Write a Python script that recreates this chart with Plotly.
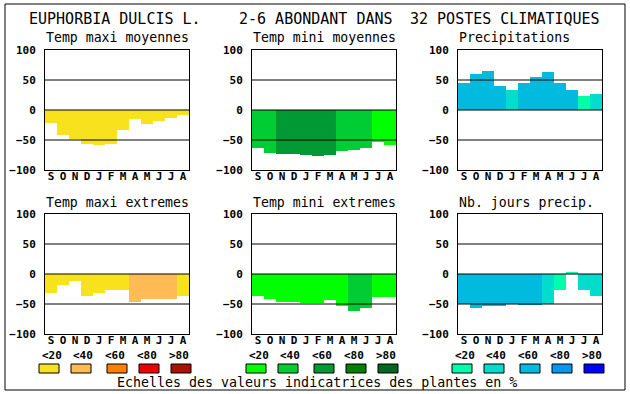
import plotly.graph_objects as go

W, H = 630, 394
months = ["S", "O", "N", "D", "J", "F", "M", "A", "M", "J", "J", "A"]
yticks = [-100, -50, 0, 50, 100]

# values per panel
tmax_moy = [-21, -42, -48, -57, -58, -57, -33, -15, -23, -18, -13, -8]
tmin_moy = [-63, -71, -73, -73, -75, -77, -75, -68, -66, -63, -54, -58]
precip = [45, 60, 65, 40, 33, 45, 55, 63, 45, 33, 23, 27]
tmax_ext = [-32, -18, -11, -36, -31, -26, -26, -46, -41, -41, -42, -36]
tmin_ext = [-36, -42, -46, -46, -49, -49, -44, -54, -62, -57, -38, -38]
nb_jours = [-50, -56, -54, -54, -50, -52, -52, -50, -27, 4, -27, -37]

# colour class (0:<20 1:<40 2:<60 3:<80 4:>80) per month
cls_tmax_moy = [0] * 12
cls_tmin_moy = [1, 1, 2, 2, 2, 2, 2, 1, 1, 1, 0, 0]
cls_precip = [2, 2, 2, 2, 1, 2, 2, 2, 2, 2, 0, 1]
cls_tmax_ext = [0, 0, 0, 0, 0, 0, 0, 1, 1, 1, 1, 0]
cls_tmin_ext = [0, 0, 0, 0, 0, 0, 0, 0, 1, 1, 0, 0]
cls_nb_jours = [2, 2, 2, 2, 2, 2, 2, 1, 0, 0, 1, 1]

scale_labels = ["<20", "<40", "<60", "<80", ">80"]
pal_warm = ["#F8E21E", "#FFBB55", "#FF7F00", "#EE0000", "#AA1100"]
pal_green = ["#00FF00", "#00CC33", "#009933", "#007F00", "#006622"]
pal_blue = ["#00FFAA", "#00DDCC", "#00BBDD", "#0099EE", "#0000FF"]

panels = [
    ("Temp maxi moyennes", tmax_moy, cls_tmax_moy, pal_warm),
    ("Temp mini moyennes", tmin_moy, cls_tmin_moy, pal_green),
    ("Precipitations", precip, cls_precip, pal_blue),
    ("Temp maxi extremes", tmax_ext, cls_tmax_ext, pal_warm),
    ("Temp mini extremes", tmin_ext, cls_tmin_ext, pal_green),
    ("Nb. jours precip.", nb_jours, cls_nb_jours, pal_blue),
]

title_texts = ["EUPHORBIA DULCIS L.", "2-6 ABONDANT DANS", "32 POSTES CLIMATIQUES"]
footer = "Echelles des valeurs indicatrices des plantes en %"

MONO = "DejaVu Sans Mono"
col_left = [45, 252, 458]
pw, ph = 144, 120
row_top = [50, 214]

def px(x):
    return x / W

def py(y):
    return 1 - y / H

fig = go.Figure()
annotations = []
shapes = []

for i, (name, vals, cls, pal) in enumerate(panels):
    r, c = divmod(i, 3)
    n = i + 1
    xa = "x" if n == 1 else f"x{n}"
    ya = "y" if n == 1 else f"y{n}"
    fig.add_trace(go.Bar(
        x=list(range(12)), y=vals,
        marker=dict(color=[pal[k] for k in cls], line=dict(width=0)),
        xaxis=xa, yaxis=ya, showlegend=False, hoverinfo="skip",
    ))
    l = col_left[c]
    t = row_top[r]
    xkey = "xaxis" if n == 1 else f"xaxis{n}"
    ykey = "yaxis" if n == 1 else f"yaxis{n}"
    fig.update_layout(**{
        xkey: dict(domain=[px(l), px(l + pw)], anchor=ya, range=[-0.5, 11.5],
                   tickvals=list(range(12)), ticktext=months, showgrid=False,
                   zeroline=False, showline=True, mirror=True, linecolor="black",
                   linewidth=1, ticks="", fixedrange=True, automargin=False,
                   ticklabelstandoff=-4,
                   tickfont=dict(family=MONO, size=11, color="black", weight="bold")),
        ykey: dict(domain=[py(t + ph), py(t)], anchor=xa, range=[-100, 100],
                   tickvals=yticks, showgrid=False, zeroline=False, showline=True,
                   mirror=True, linecolor="black", linewidth=1, ticks="",
                   ticklabelstandoff=6, fixedrange=True, automargin=False,
                   tickfont=dict(family=MONO, size=11, color="black", weight="bold")),
    })
    for gy in [-50, 0, 50]:
        shapes.append(dict(type="line", xref=f"{xa} domain", yref=ya, x0=0, x1=1,
                           y0=gy, y1=gy, line=dict(color="black", width=1), layer="above"))
    # subtitle
    annotations.append(dict(text=name, x=px(l - 1), y=py(t - 12), xref="paper", yref="paper",
                            xanchor="left", yanchor="middle", showarrow=False,
                            font=dict(family=MONO, size=13.2, color="black")))
    # legend scale under bottom row
    if r == 1:
        box_off = [-6, 26, 62, 94, 126]
        lab_off = [-5, 26, 58, 90, 122]
        for k in range(5):
            shapes.append(dict(type="rect", xref="paper", yref="paper",
                               x0=px(l + box_off[k]), x1=px(l + box_off[k] + 20),
                               y0=py(373), y1=py(364), fillcolor=pal[k],
                               line=dict(color="black", width=1)))
            annotations.append(dict(text=scale_labels[k], x=px(l + lab_off[k]), y=py(355),
                                    xref="paper", yref="paper", xanchor="left",
                                    yanchor="middle", showarrow=False,
                                    font=dict(family=MONO, size=11, color="black", weight="bold")))

# title line
annotations.append(dict(text=title_texts[0], x=px(27), y=py(18.5), xref="paper", yref="paper",
                        xanchor="left", yanchor="middle", showarrow=False,
                        font=dict(family=MONO, size=15, color="black")))
annotations.append(dict(text=title_texts[1], x=px(395), y=py(18.5), xref="paper", yref="paper",
                        xanchor="right", yanchor="middle", showarrow=False,
                        font=dict(family=MONO, size=15, color="black")))
annotations.append(dict(text=title_texts[2], x=px(602), y=py(18.5), xref="paper", yref="paper",
                        xanchor="right", yanchor="middle", showarrow=False,
                        font=dict(family=MONO, size=15, color="black")))
annotations.append(dict(text=footer, x=px(115), y=py(382), xref="paper", yref="paper",
                        xanchor="left", yanchor="middle", showarrow=False,
                        font=dict(family=MONO, size=13.3, color="black")))

# outer frame
shapes.append(dict(type="rect", xref="paper", yref="paper", x0=px(5), x1=px(625),
                   y0=py(390), y1=py(4), line=dict(color="black", width=1)))

fig.update_layout(width=W, height=H, margin=dict(l=0, r=0, t=0, b=0, autoexpand=False),
                  paper_bgcolor="white", plot_bgcolor="white", bargap=0,
                  annotations=annotations, shapes=shapes)

fig.write_html("out.html", config={"displayModeBar": False},
               post_script="document.body.style.margin='0';")
